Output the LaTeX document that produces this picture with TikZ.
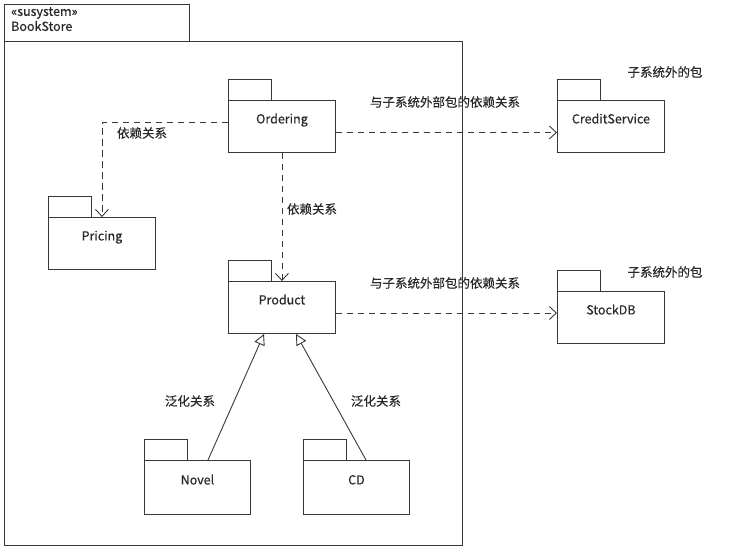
\documentclass[tikz,border=0pt]{standalone}
\usepackage{fontspec}
\setmainfont{Noto Sans CJK SC}[FakeBold=0.5]
\usetikzlibrary{arrows.meta,calc}
\definecolor{ln}{HTML}{383838}
\definecolor{tx}{HTML}{2A2A2A}
\begin{document}
\begin{tikzpicture}[x=1pt,y=-1pt,
  every node/.style={font=\fontsize{12.5}{15}\selectfont, text=tx},
  pkg/.style={draw=ln, line width=0.9pt, minimum width=107pt, minimum height=52pt,
    inner sep=0pt, text height=9pt, text depth=15pt, anchor=north west},
  tabbox/.style={draw=ln, line width=0.9pt},
  dep/.style={draw=ln, line width=0.9pt, dash pattern=on 6.5pt off 4.5pt,
    -{Straight Barb[length=7pt,width=13pt,line width=0.9pt]}},
  gen/.style={draw=ln, line width=0.9pt,
    -{Triangle[open,length=11pt,width=11pt,fill=white,line width=0.9pt]}},
  lbl/.style={inner sep=0pt}
]
\useasboundingbox (0,0) rectangle (729,558);
% subsystem frame
\node[draw=ln, line width=0.9pt, anchor=north west, minimum width=185pt, minimum height=37pt, inner sep=0pt] (ftab) at (4,4) {};
\node[lbl, anchor=north west, align=left, font=\fontsize{12.5}{15}\selectfont] (ftitle) at (11,7) {«susystem»\\BookStore};
\node[draw=ln, line width=0.9pt, anchor=north west, minimum width=458pt, minimum height=504pt, inner sep=0pt] (frame) at (4,41) {};

% packages
\newcommand{\pkgtab}[1]{\draw[tabbox] (#1.north west) rectangle ($(#1.north west)+(43,-21)$);}
\node[pkg] (ordering) at (228,100) {Ordering};
\pkgtab{ordering}
\node[pkg] (pricing) at (48,217) {Pricing};
\pkgtab{pricing}
\node[pkg] (product) at (228,281) {Product};
\pkgtab{product}
\node[pkg] (credit) at (557,100) {CreditService};
\pkgtab{credit}
\node[pkg] (stock) at (557,291) {StockDB};
\pkgtab{stock}
\node[pkg, minimum width=106pt, minimum height=54pt] (novel) at (144,460) {Novel};
\pkgtab{novel}
\node[pkg, minimum width=106pt, minimum height=54pt] (cd) at (303,460) {CD};
\pkgtab{cd}

% dependencies
\draw[dep] ([yshift=4pt]ordering.west) -| (pricing.north);
\draw[dep] (ordering.south) -- (product.north);
\draw[dep] ([yshift=-6pt]ordering.east) -- ([yshift=-6pt]credit.west);
\draw[dep] (product.east |- 0,313) -- (stock.west |- 0,313);

% generalizations
\draw[gen] ([xshift=64pt]novel.north west) -- ([xshift=36pt]product.south west);
\draw[gen] ([xshift=63pt]cd.north west) -- ([xshift=68pt]product.south west);

% labels
\node[lbl] (l1) at (142,133) {依赖关系};
\node[lbl] (l2) at (312,209) {依赖关系};
\node[lbl] (l3) at (445,102) {与子系统外部包的依赖关系};
\node[lbl] (l4) at (445,283) {与子系统外部包的依赖关系};
\node[lbl] (l5) at (665,72) {子系统外的包};
\node[lbl] (l6) at (665,272) {子系统外的包};
\node[lbl] (l7) at (190,401) {泛化关系};
\node[lbl] (l8) at (376,401) {泛化关系};
\end{tikzpicture}
\end{document}
